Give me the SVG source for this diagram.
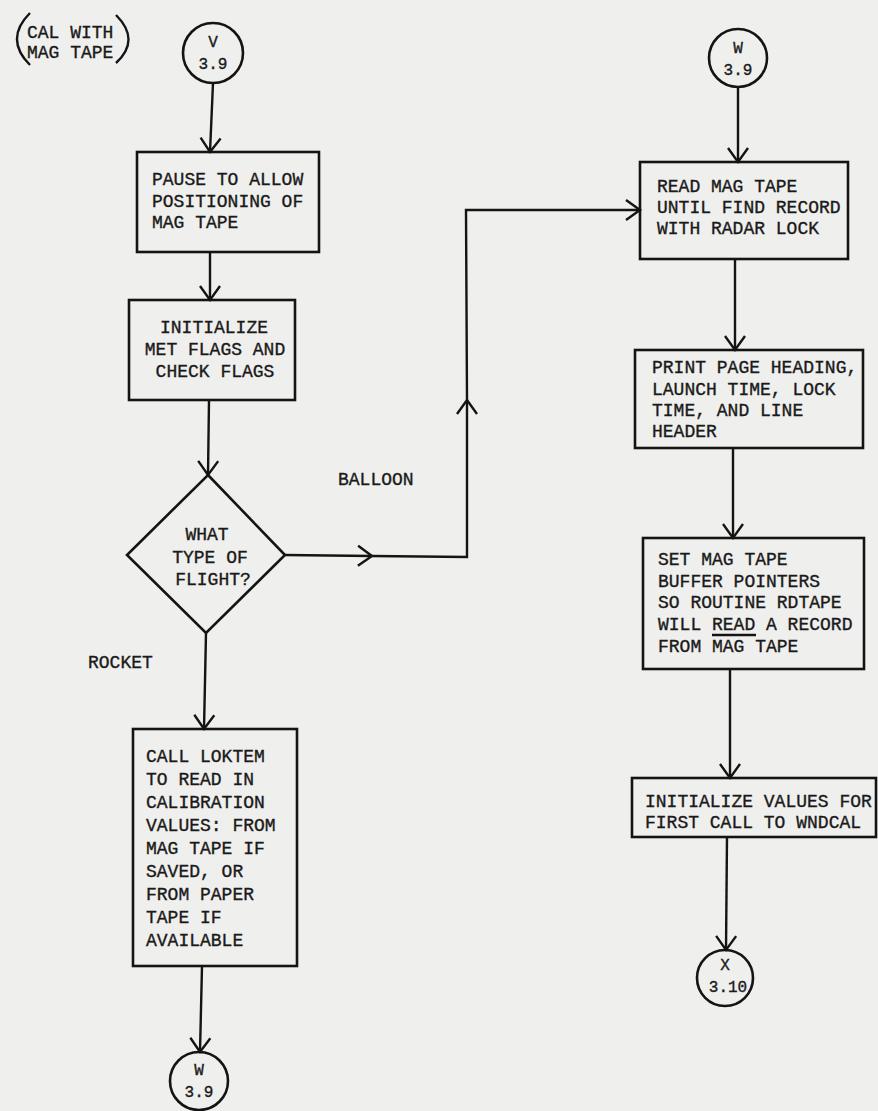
<svg xmlns="http://www.w3.org/2000/svg" width="878" height="1111" viewBox="0 0 878 1111">
<defs>
<style>
.bg{fill:#efefed}
.box{fill:none;stroke:#141414;stroke-width:2.6}
.ln{fill:none;stroke:#141414;stroke-width:2.4}
.t{font-family:"Liberation Mono","Courier New",monospace;font-size:18px;fill:#1a1a1a;stroke:#1a1a1a;stroke-width:0.35}
.c{text-anchor:middle}
.s{font-size:16px}
</style>
<marker id="arr" viewBox="-2 -2 18 24" refX="14" refY="10" markerWidth="18" markerHeight="24" markerUnits="userSpaceOnUse" orient="auto" overflow="visible">
<path d="M0,0 L14,10 L0,20" fill="none" stroke="#141414" stroke-width="2.4"/>
</marker>
</defs>
<rect class="bg" x="0" y="0" width="878" height="1111"/>

<g id="start">
<path class="ln" d="M30,13 Q4,39 30,65" stroke-width="3.5"/>
<path class="ln" d="M116,15 Q141,40 116,63" stroke-width="3.5"/>
<text class="t" x="27" y="38">CAL WITH</text>
<text class="t" x="27" y="58">MAG TAPE</text>
</g>

<g id="conn-V">
<circle class="box" cx="213" cy="53" r="30"/>
<text class="t c s" x="213" y="47">V</text>
<text class="t c s" x="213" y="69">3.9</text>
</g>

<g id="pause">
<rect class="box" x="137" y="152" width="182" height="100"/>
<text class="t" x="152" y="185">PAUSE TO ALLOW</text>
<text class="t" x="152" y="207">POSITIONING OF</text>
<text class="t" x="152" y="228">MAG TAPE</text>
</g>

<g id="init-flags">
<rect class="box" x="129" y="300" width="166" height="100"/>
<text class="t c" x="214" y="333">INITIALIZE</text>
<text class="t c" x="215" y="355">MET FLAGS AND</text>
<text class="t c" x="215" y="377">CHECK FLAGS</text>
</g>

<g id="decision">
<path class="box" d="M208,475 L285,555 L206,633 L127,555 Z"/>
<text class="t c" x="207" y="540">WHAT</text>
<text class="t c" x="210" y="563">TYPE OF</text>
<text class="t c" x="213" y="585">FLIGHT?</text>
</g>

<g id="loktem">
<rect class="box" x="133" y="729" width="164" height="237"/>
<text class="t" x="146" y="762">CALL LOKTEM</text>
<text class="t" x="146" y="785">TO READ IN</text>
<text class="t" x="146" y="808">CALIBRATION</text>
<text class="t" x="146" y="831">VALUES:  FROM</text>
<text class="t" x="146" y="854">MAG TAPE IF</text>
<text class="t" x="146" y="877">SAVED, OR</text>
<text class="t" x="146" y="900">FROM PAPER</text>
<text class="t" x="146" y="923">TAPE IF</text>
<text class="t" x="146" y="946">AVAILABLE</text>
</g>

<g id="conn-W-out">
<circle class="box" cx="199" cy="1081" r="29"/>
<text class="t c s" x="199" y="1075">W</text>
<text class="t c s" x="199" y="1097">3.9</text>
</g>

<g id="conn-W-in">
<circle class="box" cx="738" cy="58" r="29"/>
<text class="t c s" x="738" y="53">W</text>
<text class="t c s" x="738" y="75">3.9</text>
</g>

<g id="read-tape">
<rect class="box" x="640" y="162" width="208" height="97"/>
<text class="t" x="657" y="192">READ MAG TAPE</text>
<text class="t" x="657" y="213">UNTIL FIND RECORD</text>
<text class="t" x="657" y="234">WITH RADAR LOCK</text>
</g>

<g id="print-heading">
<rect class="box" x="635" y="350" width="228" height="98"/>
<text class="t" x="652" y="373">PRINT PAGE HEADING,</text>
<text class="t" x="652" y="395">LAUNCH TIME, LOCK</text>
<text class="t" x="652" y="416">TIME, AND LINE</text>
<text class="t" x="652" y="437">HEADER</text>
</g>

<g id="set-buffer">
<rect class="box" x="643" y="538" width="221" height="131"/>
<text class="t" x="658" y="565">SET MAG TAPE</text>
<text class="t" x="658" y="587">BUFFER POINTERS</text>
<text class="t" x="658" y="608">SO ROUTINE RDTAPE</text>
<text class="t" x="658" y="630">WILL READ A RECORD</text>
<text class="t" x="658" y="652">FROM MAG TAPE</text>
<line class="ln" x1="712" y1="635" x2="756" y2="635" stroke-width="1.6"/>
</g>

<g id="init-values">
<rect class="box" x="632" y="778" width="244" height="59"/>
<text class="t" x="645" y="807">INITIALIZE VALUES FOR</text>
<text class="t" x="645" y="828">FIRST CALL TO WNDCAL</text>
</g>

<g id="conn-X">
<circle class="box" cx="725" cy="978" r="28"/>
<text class="t c s" x="725" y="970">X</text>
<text class="t c s" x="728" y="992">3.10</text>
</g>

<g id="labels">
<text class="t" x="338" y="485">BALLOON</text>
<text class="t" x="88" y="668">ROCKET</text>
</g>

<g id="connectors">
<path class="ln" d="M213,83 L210,152" marker-end="url(#arr)"/>
<path class="ln" d="M210,252 L210,300" marker-end="url(#arr)"/>
<path class="ln" d="M209,400 L208,475" marker-end="url(#arr)"/>
<path class="ln" d="M206,633 L204,729" marker-end="url(#arr)"/>
<path class="ln" d="M202,966 L200,1052" marker-end="url(#arr)"/>
<path class="ln" d="M285,555 L372,556" marker-end="url(#arr)"/>
<path class="ln" d="M372,556 L467,557 L467,400" marker-end="url(#arr)"/>
<path class="ln" d="M467,400 L466,210 L640,210" marker-end="url(#arr)"/>
<path class="ln" d="M738,87 L738,162" marker-end="url(#arr)"/>
<path class="ln" d="M735,259 L735,350" marker-end="url(#arr)"/>
<path class="ln" d="M733,448 L733,538" marker-end="url(#arr)"/>
<path class="ln" d="M730,669 L730,778" marker-end="url(#arr)"/>
<path class="ln" d="M727,837 L726,950" marker-end="url(#arr)"/>
</g>
</svg>
